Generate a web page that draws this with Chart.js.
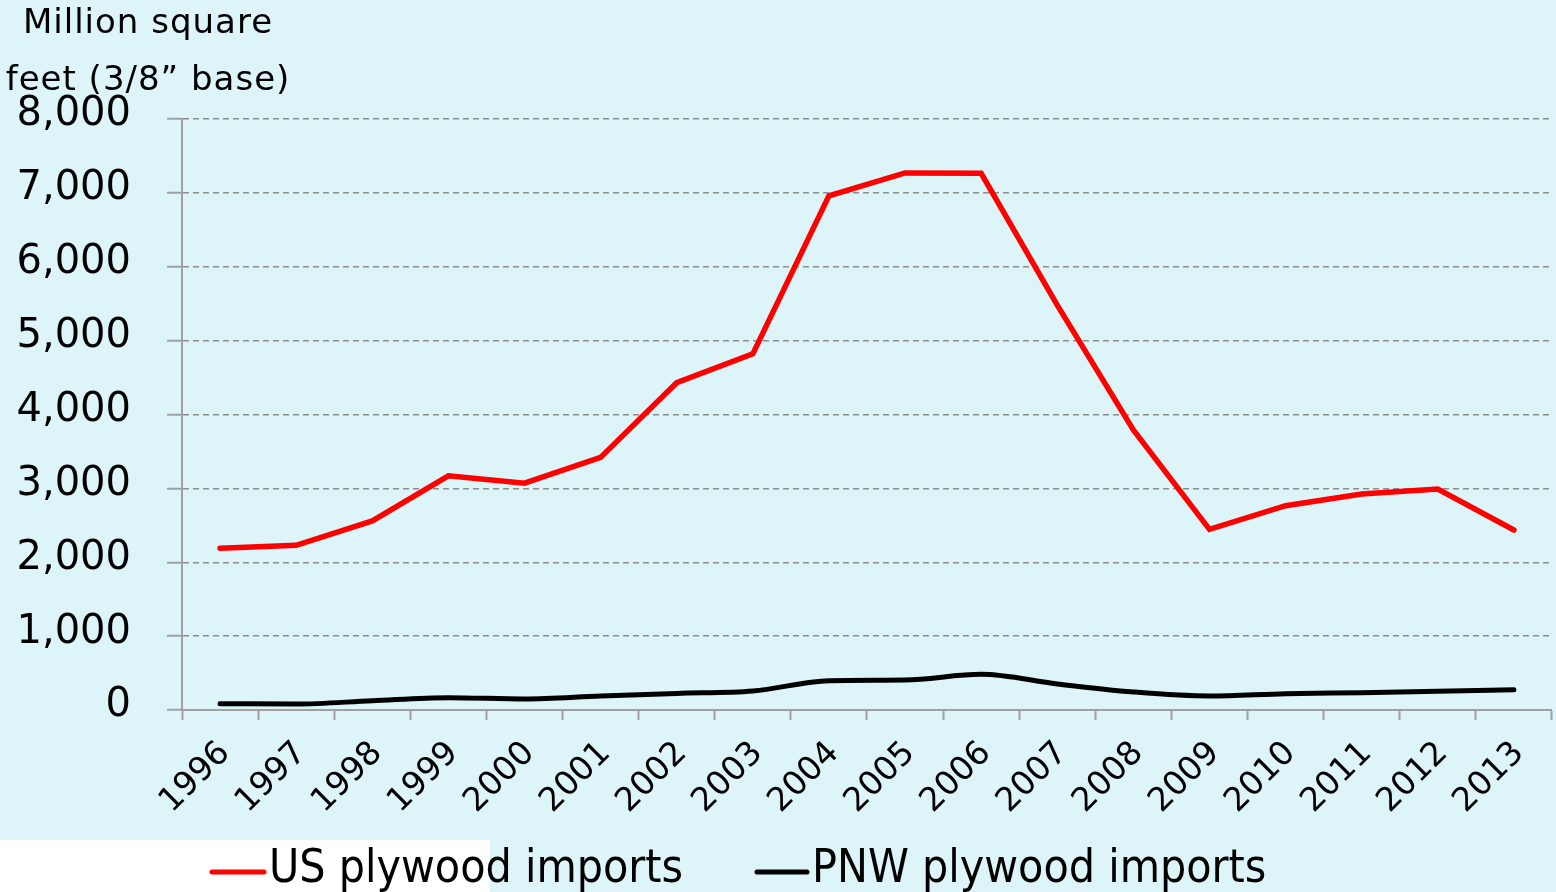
<!DOCTYPE html>
<html lang="en">
<head>
    <meta charset="UTF-8">
    <title>US and PNW plywood imports</title>
    <script src="https://cdn.jsdelivr.net/npm/chart.js"></script>
    <style>
        html, body {
            margin: 0;
            padding: 0;
            background: #ddf4f9;
            overflow: hidden;
        }
        .chart-container {
            position: relative;
            width: 1556px;
            height: 892px;
        }
        .white-patch {
            position: absolute;
            left: 0;
            top: 840px;
            width: 490px;
            height: 52px;
            background: #ffffff;
        }
        canvas {
            position: absolute;
            left: 0;
            top: 0;
        }
    </style>
</head>
<body>
    <div class="chart-container">
        <div class="white-patch"></div>
        <canvas id="chartCanvas"></canvas>
    </div>

<script>
// data
const years = ['1996', '1997', '1998', '1999', '2000', '2001', '2002', '2003', '2004',
               '2005', '2006', '2007', '2008', '2009', '2010', '2011', '2012', '2013'];
const usImports = [2190, 2230, 2560, 3170, 3070, 3420, 4430, 4820, 6960,
                   7270, 7265, 5480, 3790, 2445, 2765, 2925, 2990, 2436];
const pnwImports = [85, 80, 126, 167, 149, 189, 225, 257, 397,
                    406, 483, 352, 244, 189, 221, 235, 253, 275];
const yTickValues = [0, 1000, 2000, 3000, 4000, 5000, 6000, 7000, 8000];
const titleLines = ['Million square', 'feet (3/8\u201d base)'];
const seriesNames = ['US plywood imports', 'PNW plywood imports'];

const axisGrey = '#a0a0a0';
const gridGrey = '#8c8c8c';

// axis title, two centred lines above the y axis
const titlePlugin = {
    id: 'unitTitle',
    afterDraw(chart) {
        const c = chart.ctx;
        c.save();
        c.fillStyle = '#000';
        c.font = '34px "DejaVu Sans"';
        c.letterSpacing = '1px';
        c.textAlign = 'center';
        c.textBaseline = 'alphabetic';
        c.fillText(titleLines[0], 148, 33);
        c.fillText(titleLines[1], 148, 90);
        c.restore();
    }
};

// legend drawn under the axis labels
const legendPlugin = {
    id: 'bottomLegend',
    afterDraw(chart) {
        const c = chart.ctx;
        const lineStart = [210, 755];
        const lineLen = [56, 54];
        c.save();
        chart.data.datasets.forEach((ds, i) => {
            c.strokeStyle = ds.borderColor;
            c.lineWidth = 5;
            c.lineCap = 'round';
            c.beginPath();
            c.moveTo(lineStart[i] + 2, 872);
            c.lineTo(lineStart[i] + lineLen[i] - 2, 872);
            c.stroke();
            c.fillStyle = '#000';
            c.font = '46px "DejaVu Sans Condensed"';
            c.textAlign = 'left';
            c.textBaseline = 'alphabetic';
            c.fillText(ds.label, lineStart[i] + lineLen[i] + 3, 882);
        });
        c.restore();
    }
};

const ctx = document.getElementById('chartCanvas').getContext('2d');

const chart = new Chart(ctx, {
    type: 'line',
    data: {
        labels: years,
        datasets: [
            {
                label: seriesNames[0],
                data: usImports,
                borderColor: '#ff0000',
                backgroundColor: '#ff0000',
                borderWidth: 5.5,
                borderCapStyle: 'round',
                borderJoinStyle: 'miter',
                pointRadius: 0,
                tension: 0,
                fill: false
            },
            {
                label: seriesNames[1],
                data: pnwImports,
                borderColor: '#000000',
                backgroundColor: '#000000',
                borderWidth: 5,
                borderCapStyle: 'round',
                pointRadius: 0,
                cubicInterpolationMode: 'monotone',
                fill: false
            }
        ]
    },
    options: {
        responsive: true,
        maintainAspectRatio: false,
        animation: false,
        layout: {
            padding: { top: 119, right: 3, left: 0, bottom: 0 }
        },
        plugins: {
            legend: { display: false },
            title: { display: false },
            tooltip: { enabled: false }
        },
        scales: {
            x: {
                offset: true,
                grid: {
                    offset: true,
                    drawOnChartArea: false,
                    drawTicks: true,
                    tickLength: 10,
                    tickColor: axisGrey,
                    tickWidth: 2
                },
                border: { display: true, color: axisGrey, width: 2 },
                ticks: {
                    autoSkip: false,
                    minRotation: 45,
                    maxRotation: 45,
                    padding: 14,
                    labelOffset: 5,
                    color: '#000',
                    font: { family: '"DejaVu Sans"', size: 33 }
                },
                afterFit(scale) {
                    scale.height = 182;
                }
            },
            y: {
                min: 0,
                max: 8000,
                afterBuildTicks(scale) {
                    scale.ticks = yTickValues.map(v => ({ value: v }));
                },
                grid: {
                    color: gridGrey,
                    lineWidth: 1.5,
                    drawTicks: true,
                    tickLength: 15,
                    tickColor: axisGrey,
                    tickWidth: 2
                },
                border: { display: true, color: axisGrey, width: 2, dash: [6, 4] },
                ticks: {
                    padding: 36,
                    labelOffset: -4,
                    color: '#000',
                    font: { family: '"DejaVu Sans"', size: 40 },
                    callback: v => v.toLocaleString('en-US')
                },
                afterFit(scale) {
                    scale.width = 182;
                }
            }
        }
    },
    plugins: [titlePlugin, legendPlugin]
});
</script>
</body>
</html>
